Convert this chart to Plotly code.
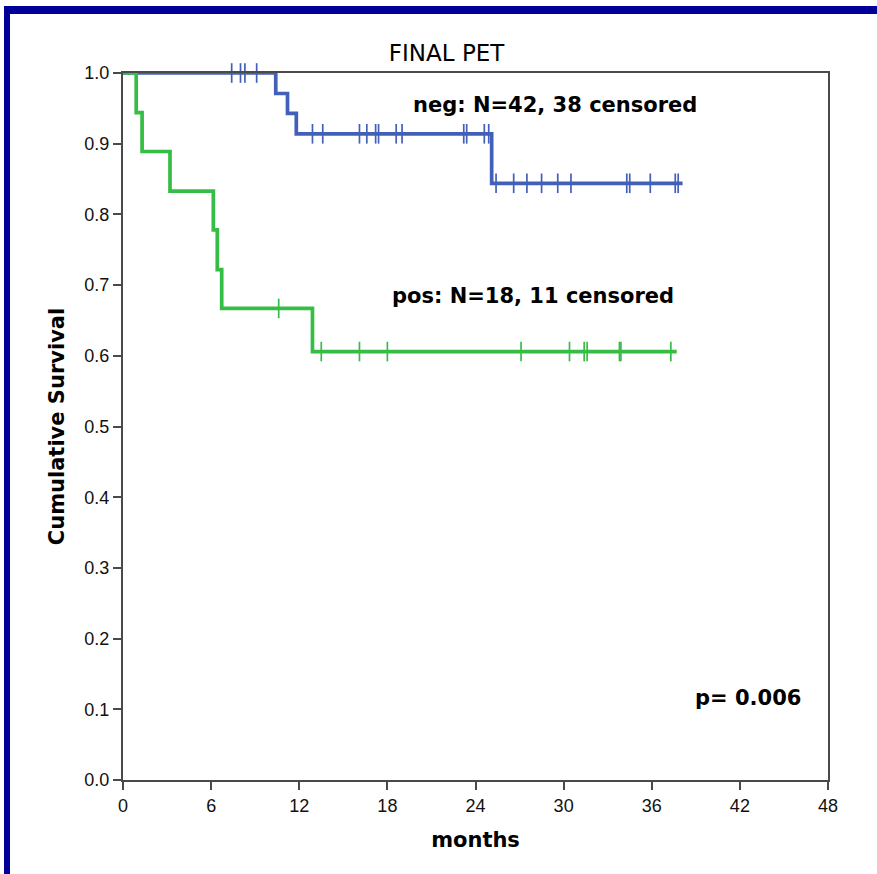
import plotly.graph_objects as go

# Kaplan-Meier step data (months, cumulative survival)
neg_step_t = [0, 10.4, 11.2, 11.8, 25.1, 38.1]
neg_step_s = [1.0, 0.971, 0.943, 0.914, 0.844, 0.844]
neg_cens_t = [7.4, 8.0, 8.3, 9.1,
              12.9, 13.6, 16.1, 16.6, 17.2, 17.4, 18.6, 19.0, 23.2, 23.4, 24.6, 24.9,
              25.4, 26.6, 27.5, 28.5, 29.6, 30.5, 34.3, 34.5, 35.9, 37.6, 37.8]
neg_cens_s = [1.0] * 4 + [0.914] * 12 + [0.844] * 11

pos_step_t = [0, 0.9, 1.3, 3.2, 6.15, 6.42, 6.72, 12.9, 37.7]
pos_step_s = [1.0, 0.944, 0.889, 0.833, 0.778, 0.722, 0.667, 0.606, 0.606]
pos_cens_t = [10.6, 13.5, 16.1, 18.0, 27.1, 30.4, 31.4, 31.6, 33.8, 33.9, 37.3]
pos_cens_s = [0.667] + [0.606] * 10

x_ticks = [0, 6, 12, 18, 24, 30, 36, 42, 48]
y_ticks = [0.0, 0.1, 0.2, 0.3, 0.4, 0.5, 0.6, 0.7, 0.8, 0.9, 1.0]

BLUE = "#4260b8"
GREEN = "#36bd46"
BOLD_FONT = "DejaVu Sans, Liberation Sans, Arial, sans-serif"

fig = go.Figure()
for t, s, ct, cs, col, name in [
    (neg_step_t, neg_step_s, neg_cens_t, neg_cens_s, BLUE, "neg"),
    (pos_step_t, pos_step_s, pos_cens_t, pos_cens_s, GREEN, "pos"),
]:
    fig.add_trace(go.Scatter(x=t, y=s, mode="lines", line=dict(color=col, width=3.7, shape="hv"),
                             name=name, showlegend=False, cliponaxis=False))
    fig.add_trace(go.Scatter(x=ct, y=cs, mode="markers",
                             marker=dict(symbol="line-ns", size=14, line=dict(color=col, width=1.7)),
                             showlegend=False, cliponaxis=False))

L, R, T, B = 123, 49, 73, 94
W, H = 877, 874
pw, ph = W - L - R, H - T - B

def px(x):
    return (x - L) / pw

def py(y):
    return (H - B - y) / ph

axis_common = dict(showgrid=False, zeroline=False, showline=True, linecolor="#4a4a4a", linewidth=2,
                   mirror=True, ticks="outside", ticklen=8, tickcolor="#4a4a4a", tickwidth=1.5,
                   tickfont=dict(family="Liberation Sans, Arial, sans-serif", size=18, color="#111"))

fig.update_layout(
    width=W, height=H,
    margin=dict(l=L, r=R, t=T, b=B),
    paper_bgcolor="white", plot_bgcolor="white",
    font=dict(family="Liberation Sans, Arial, sans-serif", color="black"),
    title=dict(text="FINAL PET", x=px(482), xanchor="center", y=1 - 53 / H, yanchor="middle",
               font=dict(family=BOLD_FONT, size=23, color="black")),
    xaxis=dict(range=[0, 48], tickvals=x_ticks, ticktext=[str(v) for v in x_ticks],
               title=dict(text="<b>months</b>", font=dict(family=BOLD_FONT, size=21), standoff=18),
               **axis_common),
    yaxis=dict(range=[0, 1], tickvals=y_ticks, ticktext=[f"{v:.1f}" for v in y_ticks],
               title=dict(text="<b>Cumulative Survival</b>", font=dict(family=BOLD_FONT, size=21), standoff=14),
               **axis_common),
    annotations=[
        dict(text="<b>neg: N=42, 38 censored</b>", xref="paper", yref="paper", x=px(555), y=py(105),
             xanchor="center", yanchor="middle", showarrow=False, font=dict(family=BOLD_FONT, size=21)),
        dict(text="<b>pos: N=18, 11 censored</b>", xref="paper", yref="paper", x=px(533), y=py(296),
             xanchor="center", yanchor="middle", showarrow=False, font=dict(family=BOLD_FONT, size=21)),
        dict(text="<b>p= 0.006</b>", xref="paper", yref="paper", x=px(748), y=py(698),
             xanchor="center", yanchor="middle", showarrow=False, font=dict(family=BOLD_FONT, size=21)),
    ],
    shapes=[
        dict(type="rect", xref="paper", yref="paper", x0=px(4), x1=px(880), y0=py(6), y1=py(14),
             fillcolor="#000099", line=dict(width=0), layer="above"),
        dict(type="rect", xref="paper", yref="paper", x0=px(4), x1=px(10), y0=py(6), y1=py(880),
             fillcolor="#000099", line=dict(width=0), layer="above"),
    ],
)

fig.write_html("out.html", config={"displayModeBar": False},
               post_script="document.body.style.margin='0px';")
